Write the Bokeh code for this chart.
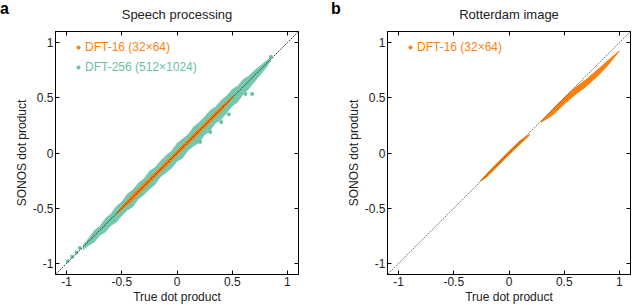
from bokeh.plotting import figure
from bokeh.layouts import row
from bokeh.models import (FixedTicker, LinearAxis, Range1d, Slope, Legend, LegendItem, Div)
from bokeh.embed import file_html
from bokeh.resources import INLINE

# ---------------- data ----------------
tick_values = [-1, -0.5, 0, 0.5, 1]
tick_labels = ["-1", "-0.5", "0", "0.5", "1"]

# Panel a: DFT-256 cloud (upper / lower edges)
a256_x = [-0.85, -0.80, -0.75, -0.70, -0.65, -0.60, -0.55, -0.50, -0.45, -0.40, -0.35, -0.30,
          -0.25, -0.20, -0.15, -0.10, -0.05, 0.00, 0.05, 0.10, 0.15, 0.20, 0.25, 0.30,
          0.35, 0.40, 0.45, 0.50, 0.55, 0.60, 0.65, 0.70, 0.75, 0.80, 0.85]
a256_hi = [-0.83, -0.77, -0.70, -0.66, -0.59, -0.55, -0.48, -0.44, -0.37, -0.33, -0.27, -0.23,
           -0.16, -0.13, -0.07, -0.02, 0.02, 0.09, 0.13, 0.17, 0.24, 0.28, 0.33, 0.39,
           0.42, 0.48, 0.52, 0.58, 0.61, 0.67, 0.70, 0.75, 0.79, 0.83, 0.87]
a256_lo = [-0.88, -0.84, -0.81, -0.75, -0.72, -0.66, -0.63, -0.57, -0.52, -0.49, -0.42, -0.38,
           -0.33, -0.29, -0.22, -0.18, -0.14, -0.08, -0.05, 0.02, 0.06, 0.09, 0.16, 0.20,
           0.27, 0.30, 0.36, 0.42, 0.46, 0.53, 0.58, 0.64, 0.70, 0.76, 0.83]
a256_out_x = [-0.99, -0.95, -0.91, -0.88, 0.21, 0.30, 0.40, 0.47, 0.62, 0.68, 0.85]
a256_out_y = [-0.98, -0.94, -0.90, -0.86, 0.10, 0.19, 0.28, 0.35, 0.535, 0.535, 0.87]

# Panel a: DFT-16 band
a16_x = [-0.55, -0.40, -0.20, 0.00, 0.20, 0.40, 0.51]
a16_hi = [-0.54, -0.37, -0.175, 0.025, 0.225, 0.425, 0.525]
a16_lo = [-0.56, -0.43, -0.225, -0.025, 0.175, 0.375, 0.505]

# Panel b: DFT-16, two segments
b1_x = [-0.26, -0.20, -0.10, 0.00, 0.10, 0.19]
b1_hi = [-0.25, -0.18, -0.08, 0.02, 0.115, 0.175]
b1_lo = [-0.26, -0.22, -0.12, -0.02, 0.075, 0.16]
b2_x = [0.29, 0.35, 0.40, 0.50, 0.60, 0.70, 0.80, 0.90, 1.00]
b2_hi = [0.29, 0.35, 0.405, 0.505, 0.595, 0.67, 0.755, 0.845, 0.93]
b2_lo = [0.275, 0.31, 0.345, 0.44, 0.525, 0.60, 0.69, 0.795, 0.92]

ORANGE = "#ff7f0e"
GREEN = "#66c2a5"
FONT = "Liberation Sans"
FH = 243
NAN = float("nan")


def make_fig(title, left_border, right_border):
    p = figure(width=None, height=None, frame_width=243, frame_height=FH,
               x_range=Range1d(-1.1, 1.1), y_range=Range1d(-1.1, 1.1),
               output_backend="svg", toolbar_location=None,
               min_border_left=left_border, min_border_right=right_border,
               min_border_top=31, min_border_bottom=0)
    p.grid.visible = False
    p.outline_line_color = "black"
    p.title.text = title
    p.title.align = "center"
    p.title.text_font = FONT
    p.title.text_font_style = "normal"
    p.title.text_font_size = "13px"
    p.title.text_color = "#222222"
    p.title.standoff = 2
    p.add_layout(LinearAxis(), "above")
    p.add_layout(LinearAxis(), "right")
    for ax in p.axis:
        ax.ticker = FixedTicker(ticks=tick_values)
        ax.major_label_overrides = dict(zip(tick_values, tick_labels))
        ax.major_tick_in = 4
        ax.major_tick_out = 0
        ax.minor_tick_line_color = None
        ax.axis_line_color = "black"
        ax.major_tick_line_color = "black"
        ax.major_label_text_font = FONT
        ax.major_label_text_font_size = "12px"
        ax.major_label_text_color = "#222222"
        ax.major_label_standoff = 2
        ax.axis_label_text_font = FONT
        ax.axis_label_text_font_size = "12px"
        ax.axis_label_text_font_style = "normal"
        ax.axis_label_text_color = "#222222"
        ax.axis_label_standoff = 1
    for ax in p.right:
        if isinstance(ax, LinearAxis):
            ax.major_label_overrides = {t: "" for t in tick_values}
            ax.major_label_standoff = 0
    for ax in p.above:
        if isinstance(ax, LinearAxis):
            ax.major_label_overrides = {t: " " for t in tick_values}
            ax.major_label_text_font_size = "6px"
            ax.major_label_standoff = 0
    p.below[0].axis_label = "True dot product"
    p.left[0].axis_label = "SONOS dot product"
    p.add_layout(Slope(gradient=1, y_intercept=0, line_color="#444444",
                       line_width=0.7, line_dash="2 1"))
    return p


def letter_div(letter, w):
    return Div(text=letter, width=w, height=22, margin=0,
               styles={"font-family": FONT, "font-weight": "bold", "font-size": "16px",
                       "line-height": "16px", "color": "#000000", "padding-top": "1px"})


def add_legend(p, label, color, y_pos):
    dummy = p.scatter(x=[NAN], y=[NAN], size=7, color=color, marker="circle")
    leg = Legend(items=[LegendItem(label=label, renderers=[dummy])], location=(19, y_pos),
                 label_text_color=color, label_text_font=FONT, label_text_font_size="12px",
                 glyph_width=8, glyph_height=10, label_standoff=3, padding=0, margin=0,
                 border_line_color=None, background_fill_alpha=0, label_height=14)
    p.add_layout(leg)


# ---------------- panel a ----------------
pa = make_fig("Speech processing", 38, 33)
pa.varea(x=a256_x, y1=a256_lo, y2=a256_hi, fill_color=GREEN, fill_alpha=0.9)
pa.scatter(x=a256_out_x, y=a256_out_y, size=2.5, color=GREEN, marker="square")
pa.varea(x=a16_x, y1=a16_lo, y2=a16_hi, fill_color=ORANGE)
pa.add_layout(Slope(gradient=1, y_intercept=0, line_color="#222222",
                    line_width=0.8, line_dash="1 2"))
add_legend(pa, "DFT-16 (32\u00d764)", ORANGE, FH - 23)
add_legend(pa, "DFT-256 (512\u00d71024)", GREEN, FH - 43)

# ---------------- panel b ----------------
pb = make_fig("Rotterdam image", 38, 1)
pb.varea(x=b1_x, y1=b1_lo, y2=b1_hi, fill_color=ORANGE)
pb.varea(x=b2_x, y1=b2_lo, y2=b2_hi, fill_color=ORANGE)
add_legend(pb, "DFT-16 (32\u00d764)", ORANGE, FH - 23)

layout = row(letter_div("a", 11), pa, letter_div("b", 12), pb)
open("out.html", "w").write(file_html(layout, INLINE))
